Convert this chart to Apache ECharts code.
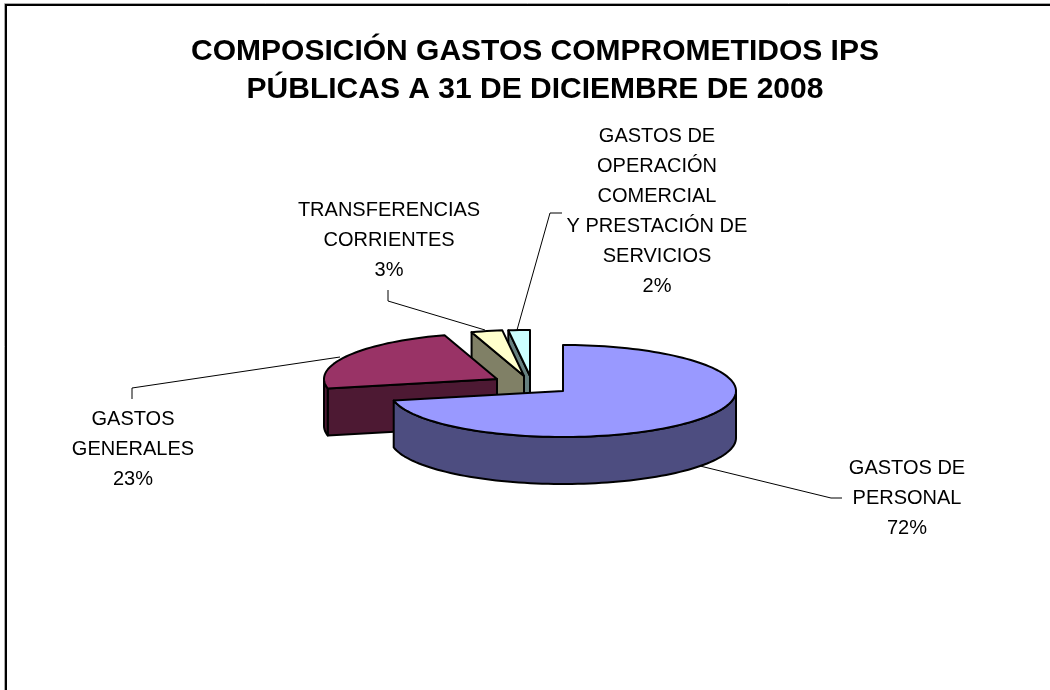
<!DOCTYPE html>
<html>
<head>
<meta charset="utf-8">
<style>
html,body{margin:0;padding:0;background:#fff;}
#chart{width:1050px;height:690px;}
</style>
<script src="https://cdn.jsdelivr.net/npm/echarts@6/dist/echarts.min.js"></script>
</head>
<body>
<div id="chart"></div>
<script>
// values; the labels show them rounded
var categories=['GASTOS DE\nPERSONAL','GASTOS\nGENERALES','TRANSFERENCIAS\nCORRIENTES','GASTOS DE\nOPERACIÓN\nCOMERCIAL\nY PRESTACIÓN DE\nSERVICIOS'];
var values=[71.7,23.4,2.9,2.0];
var titleText='COMPOSICIÓN GASTOS COMPROMETIDOS IPS\nPÚBLICAS A 31 DE DICIEMBRE DE 2008';

var topColors=['#9999ff','#993366','#ffffcc','#ccffff'];
var sideColors=['#4d4d80','#4d1933','#808066','#668080'];

// pie projection
var pieCenter=[563,391],rx=173,ry=46,depth=47;
var explode=[[0,0],[-66,-12],[-39,-15],[-33,-15]];
// label centre and leader line of each slice
var labelPos=[[907,468],[133,419],[389,210],[657,136]];
var leaders=[
    [[700,466],[831,498],[842,498]],
    [[340,357],[132,388],[132,399]],
    [[485,330],[388,301],[388,290]],
    [[517,330],[550,213],[562,213]]
];

var total=values.reduce(function(a,b){return a+b;},0);
var starts=[],acc=0;
values.forEach(function(v){
    starts.push(acc);
    acc+=v/total*360;
});

function arcPoint(c,deg,dy){
    var r=deg*Math.PI/180;
    return [c[0]+rx*Math.sin(r),c[1]-ry*Math.cos(r)+(dy||0)];
}
function arcPoints(c,a,b,dy){
    var pts=[],n=Math.max(2,Math.ceil((b-a)/2));
    for(var i=0;i<=n;i++){
        pts.push(arcPoint(c,a+(b-a)*i/n,dy));
    }
    return pts;
}
function face(points,fill,z){
    return {
        type:'polygon',
        z2:z,
        shape:{points:points},
        style:{fill:fill,stroke:'#000',lineWidth:2,lineJoin:'round'}
    };
}

function renderSlice(params,api){
    var i=params.dataIndex;
    var a=starts[i],b=a+api.value(0)/total*360;
    var c=[pieCenter[0]+explode[i][0],pieCenter[1]+explode[i][1]];
    var z=(values.length-i)*10;
    var children=[];
    // cut face at the start angle, seen only on the far left half
    if(a>180){
        var p=arcPoint(c,a);
        children.push(face([c,p,[p[0],p[1]+depth],[c[0],c[1]+depth]],sideColors[i],z));
    }
    // outer wall, only the front half of the rim shows
    var wa=Math.max(a,90),wb=Math.min(b,270);
    if(wb>wa){
        var up=arcPoints(c,wa,wb,0),down=arcPoints(c,wa,wb,depth).reverse();
        children.push(face(up.concat(down),sideColors[i],z+1));
    }
    children.push(face([c].concat(arcPoints(c,a,b,0)),topColors[i],z+2));
    // leader and label go over every slice
    children.push({
        type:'polyline',
        z2:100,
        shape:{points:leaders[i]},
        style:{fill:null,stroke:'#000',lineWidth:1}
    });
    children.push({
        type:'text',
        z2:100,
        style:{
            x:labelPos[i][0],
            y:labelPos[i][1]-15,
            text:categories[i]+'\n'+Math.round(api.value(0))+'%',
            fill:'#000',
            font:'20px "Liberation Sans"',
            lineHeight:30,
            align:'center',
            verticalAlign:'top'
        }
    });
    return {type:'group',children:children};
}

var myChart=echarts.init(document.getElementById('chart'),null,{renderer:'canvas'});
myChart.setOption({
    animation:false,
    backgroundColor:'#fff',
    title:{
        text:titleText,
        left:530,
        top:28,
        textAlign:'center',
        textStyle:{
            color:'#000',
            fontFamily:'Liberation Sans',
            fontWeight:'bold',
            fontSize:30,
            lineHeight:38
        }
    },
    graphic:[
        {type:'polyline',shape:{points:[[4.5,690],[4.5,3.5],[1050,3.5]]},style:{fill:null,stroke:'#aaa',lineWidth:1}},
        {type:'polyline',shape:{points:[[6,690],[6,5],[1050,5]]},style:{fill:null,stroke:'#000',lineWidth:2}}
    ],
    series:[{
        type:'custom',
        coordinateSystem:'none',
        renderItem:renderSlice,
        data:values
    }]
});
</script>
</body>
</html>
